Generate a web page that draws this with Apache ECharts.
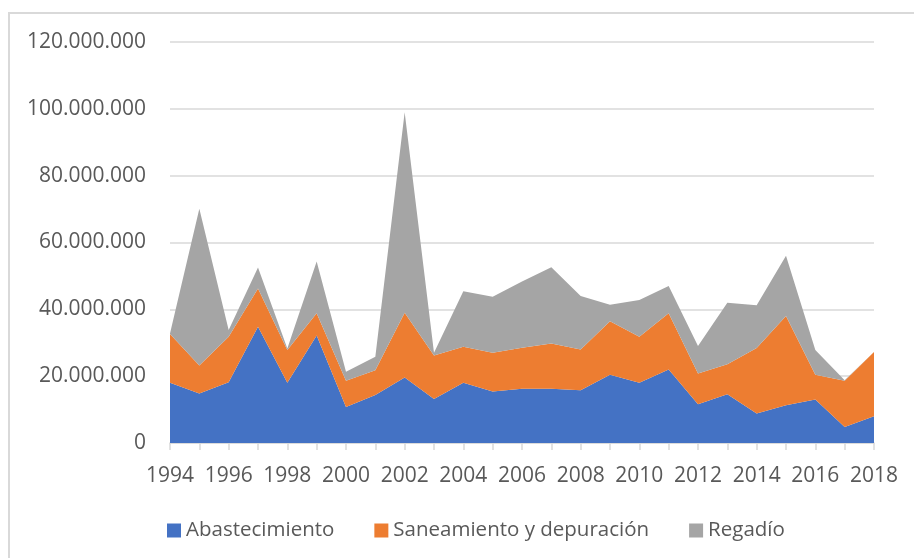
<!DOCTYPE html>
<html>
<head>
<meta charset="utf-8">
<script src="https://cdn.jsdelivr.net/npm/echarts@6/dist/echarts.min.js"></script>
<style>
  html, body { margin: 0; padding: 0; background: #fff; overflow: hidden; }
  #main { position: absolute; left: 0; top: 0; width: 914px; height: 558px; }
  #frame { position: absolute; left: 8px; top: 12px; width: 1000px; height: 1000px;
           border-top: 2px solid #d9d9d9; border-left: 2px solid #d9d9d9; }
</style>
</head>
<body>
<div id="frame"></div>
<div id="main"></div>
<script>
// años y valores (euros)
var years = ['1994','1995','1996','1997','1998','1999','2000','2001','2002','2003','2004','2005',
  '2006','2007','2008','2009','2010','2011','2012','2013','2014','2015','2016','2017','2018'];

var abastecimiento = [18000000, 14800000, 18200000, 34800000, 18000000, 32200000, 10800000, 14400000,
  19600000, 13200000, 18000000, 15400000, 16200000, 16200000, 15800000, 20400000, 18000000,
  22000000, 11600000, 14600000, 8800000, 11300000, 13000000, 4800000, 8000000];

var saneamiento = [14600000, 8400000, 13600000, 11400000, 9800000, 6600000, 7800000, 7400000,
  19400000, 13000000, 10800000, 11600000, 12300000, 13600000, 12200000, 16000000, 13800000,
  16800000, 9200000, 9000000, 19600000, 26700000, 7400000, 13800000, 19200000];

var regadio = [200000, 46900000, 2000000, 6300000, 500000, 15500000, 2700000, 4000000,
  60000000, 800000, 16600000, 16800000, 19800000, 22800000, 16000000, 5000000, 11000000,
  8200000, 8200000, 18400000, 12800000, 18000000, 7400000, 200000, 0];

var FONT = '"Open Sans", sans-serif';
var TXT = '#595959';

function puntos(v) {
  return String(v).replace(/\B(?=(\d{3})+(?!\d))/g, '.');
}

function serie(name, data, color) {
  return {
    name: name,
    type: 'line',
    stack: 'total',
    data: data,
    showSymbol: false,
    symbol: 'none',
    lineStyle: { width: 0 },
    areaStyle: { color: color, opacity: 1 },
    itemStyle: { color: color },
    emphasis: { disabled: true }
  };
}

var chart = echarts.init(document.getElementById('main'));
chart.setOption({
  animation: false,
  grid: { left: 170, right: 40, top: 42, bottom: 115, containLabel: false },
  legend: {
    left: 162,
    top: 515,
    icon: 'rect',
    itemWidth: 14,
    itemHeight: 14,
    itemGap: 40,
    textStyle: { fontFamily: FONT, fontSize: 20.5, color: TXT },
    data: ['Abastecimiento', 'Saneamiento y depuración', 'Regadío']
  },
  xAxis: {
    type: 'category',
    data: years,
    boundaryGap: false,
    axisLine: { lineStyle: { color: '#d9d9d9', width: 1.5 } },
    axisTick: { show: true, interval: 0, length: 7, lineStyle: { color: '#d9d9d9', width: 1.5 } },
    axisLabel: { interval: 1, margin: 23, fontFamily: FONT, fontSize: 21, color: TXT }
  },
  yAxis: {
    type: 'value',
    min: 0,
    max: 120000000,
    interval: 20000000,
    axisLine: { show: false },
    axisTick: { show: false },
    splitLine: { lineStyle: { color: '#d9d9d9', width: 1.5 } },
    axisLabel: { margin: 24, fontFamily: FONT, fontSize: 21, color: TXT, formatter: puntos }
  },
  series: [
    serie('Abastecimiento', abastecimiento, '#4472C4'),
    serie('Saneamiento y depuración', saneamiento, '#ED7D31'),
    serie('Regadío', regadio, '#A5A5A5')
  ]
});
</script>
</body>
</html>
